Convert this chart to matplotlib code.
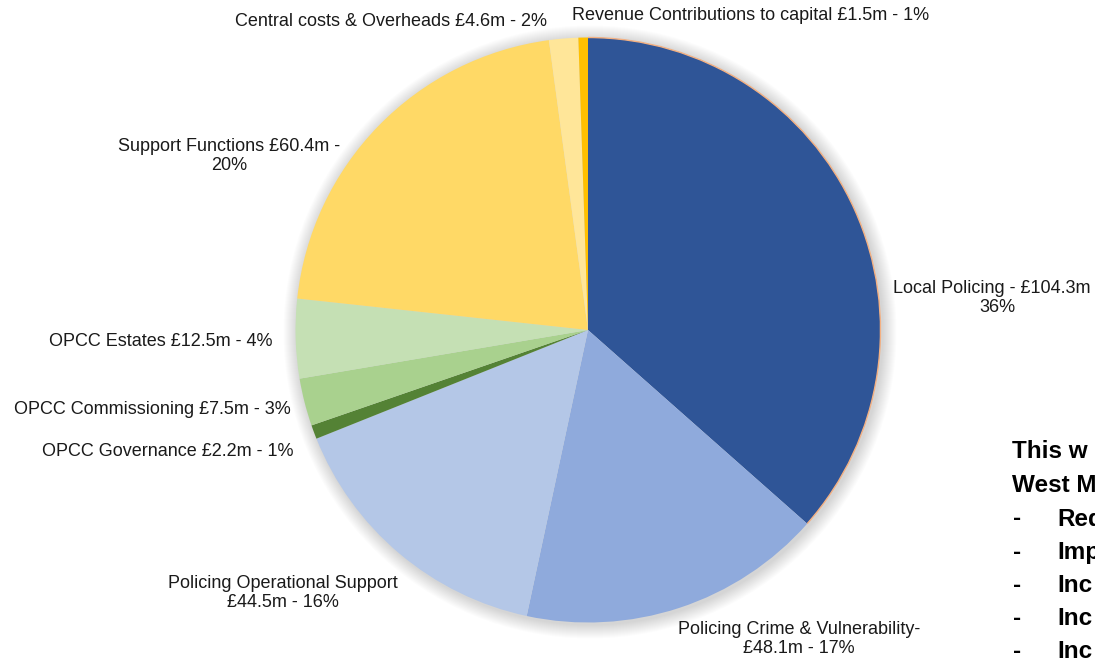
import matplotlib
matplotlib.use("Agg")
import matplotlib.pyplot as plt
from matplotlib.patches import Arc, Circle

plt.rcParams["font.family"] = ["Liberation Sans", "DejaVu Sans"]

# budget split, clockwise from 12 o'clock
CATEGORIES = ["Local Policing", "Policing Crime & Vulnerability", "Policing Operational Support",
              "OPCC Governance", "OPCC Commissioning", "OPCC Estates",
              "Support Functions", "Central costs & Overheads", "Revenue Contributions to capital"]
VALUES = [104.3, 48.1, 44.5, 2.2, 7.5, 12.5, 60.4, 4.6, 1.5]
COLORS = ["#2F5597", "#8FAADC", "#B4C7E7", "#548235", "#A9D18E", "#C5E0B4",
          "#FFD966", "#FFE699", "#FFC000"]
LABELS = ["Local Policing - £104.3m -\n36%",
          "Policing Crime & Vulnerability-\n£48.1m - 17%",
          "Policing Operational Support\n£44.5m - 16%",
          "OPCC Governance £2.2m - 1%",
          "OPCC Commissioning £7.5m - 3%",
          "OPCC Estates £12.5m - 4%",
          "Support Functions £60.4m -\n20%",
          "Central costs & Overheads £4.6m - 2%",
          "Revenue Contributions to capital £1.5m - 1%"]
# label centres in pixels from the top-left corner
LABEL_POS = [(997, 298), (799, 639), (283, 593), (168, 452), (152, 410),
             (161, 342), (229, 156), (391, 22), (751, 16)]

SIDE_TITLE = ["This w", "West M"]
SIDE_ITEMS = ["Red", "Imp", "Inc", "Inc", "Inc"]

W, H = 1095, 660
CX, CY, R = 588, 330, 292.5

fig = plt.figure(figsize=(W / 100, H / 100), dpi=100)
ax = fig.add_axes([0, 0, 1, 1])

# soft halo behind the pie
for i in range(14):
    ax.add_patch(Circle((CX + 2, H - CY - 2), R + 14 - i, color="#000000",
                        alpha=0.012, lw=0, zorder=0))

wedges, _ = ax.pie(VALUES, colors=COLORS, startangle=90, counterclock=False,
                   center=(CX, H - CY), radius=R,
                   wedgeprops=dict(linewidth=0))
w0 = wedges[0]
ax.add_patch(Arc((CX, H - CY), 2 * R, 2 * R, theta1=w0.theta1, theta2=w0.theta2,
                 color="#F4B183", lw=1.0, zorder=3))

for lab, (px, py) in zip(LABELS, LABEL_POS):
    ax.text(px, H - py, lab, ha="center", va="center", fontsize=13,
            color="#1a1a1a", linespacing=1.15, multialignment="center")

for k, t in enumerate(SIDE_TITLE):
    ax.text(1012, H - (452 + 33 * k), t, ha="left", va="center",
            fontsize=17.5, fontweight="bold", color="black")
for k, t in enumerate(SIDE_ITEMS):
    y = H - (519 + 33.2 * k)
    ax.text(1013, y, "-", ha="left", va="center", fontsize=17.5,
            fontweight="bold", color="black")
    ax.text(1057, y, t, ha="left", va="center", fontsize=17.5,
            fontweight="bold", color="black")

ax.set_xlim(0, W)
ax.set_ylim(0, H)
ax.set_aspect("equal")
ax.axis("off")

fig.savefig("out.png", dpi=100)
